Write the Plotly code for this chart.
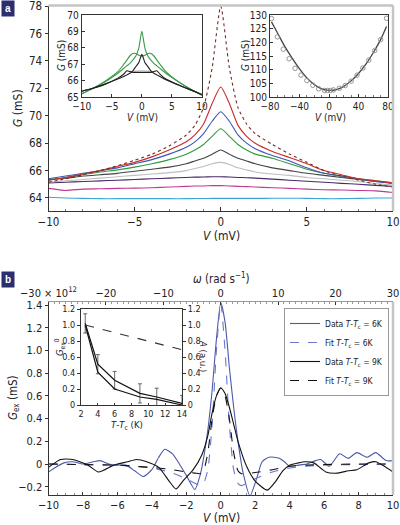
import plotly.graph_objects as go

FONT = "Liberation Sans Narrow, DejaVu Sans Condensed, Roboto, Liberation Sans, Arial, sans-serif"

# ---------------- Panel a: main curves ----------------
V_a = [-10, -9, -8, -7, -6, -5, -4, -3, -2, -1.5, -1, -0.5, 0, 0.5, 1, 1.5, 2, 3, 4, 5, 6, 7, 8, 9, 10]
G_dot = [65.15, 65.4, 65.7, 66.0, 66.35, 66.75, 67.2, 67.8, 68.6, 69.3, 70.6, 73.5, 78.0, 73.5, 70.6, 69.4, 68.7, 67.9, 67.2, 66.6, 66.0, 65.6, 65.3, 65.0, 64.8]
G_red = [65.3, 65.5, 65.75, 66.0, 66.3, 66.6, 67.0, 67.5, 68.1, 68.6, 69.4, 70.9, 72.1, 70.9, 69.3, 68.5, 68.0, 67.4, 66.95, 66.5, 66.0, 65.7, 65.4, 65.25, 65.1]
G_blue = [65.4, 65.6, 65.8, 66.0, 66.2, 66.5, 66.8, 67.2, 67.7, 68.1, 68.7, 69.6, 70.3, 69.6, 68.6, 68.0, 67.6, 67.1, 66.7, 66.2, 65.8, 65.6, 65.4, 65.2, 65.05]
G_green = [65.3, 65.5, 65.7, 65.9, 66.05, 66.25, 66.5, 66.8, 67.2, 67.5, 67.9, 68.5, 69.05, 68.5, 67.9, 67.5, 67.2, 66.9, 66.5, 66.1, 65.8, 65.6, 65.4, 65.25, 65.1]
G_dark = [65.35, 65.45, 65.6, 65.7, 65.8, 65.95, 66.1, 66.25, 66.5, 66.7, 66.9, 67.2, 67.5, 67.2, 66.9, 66.7, 66.5, 66.2, 66.0, 65.8, 65.65, 65.5, 65.35, 65.2, 65.1]
G_light = [65.15, 65.25, 65.35, 65.45, 65.55, 65.65, 65.75, 65.85, 66.0, 66.15, 66.3, 66.5, 66.6, 66.45, 66.2, 66.05, 65.9, 65.75, 65.65, 65.5, 65.4, 65.3, 65.2, 65.05, 64.95]
G_purple = [65.1, 65.15, 65.2, 65.25, 65.3, 65.35, 65.4, 65.45, 65.5, 65.52, 65.53, 65.55, 65.55, 65.53, 65.5, 65.48, 65.45, 65.38, 65.3, 65.22, 65.15, 65.07, 65.0, 64.92, 64.85]
G_magenta = [64.7, 64.55, 64.65, 64.67, 64.7, 64.72, 64.75, 64.8, 64.85, 64.87, 64.88, 64.9, 64.9, 64.88, 64.85, 64.83, 64.8, 64.75, 64.7, 64.65, 64.6, 64.58, 64.55, 64.52, 64.4]
G_cyan = [64.05, 64.0, 63.97, 63.95, 63.95, 63.95, 63.95, 63.95, 63.95, 63.96, 63.96, 63.97, 63.97, 63.97, 63.97, 63.97, 63.97, 63.98, 63.98, 63.97, 63.95, 63.95, 63.97, 64.0, 64.0]

# ---------------- Panel a: left inset ----------------
V_in = [-10, -8, -6, -4, -3, -2.5, -2, -1.5, -1, -0.5, 0, 0.5, 1, 1.5, 2, 2.5, 3, 4, 6, 8, 10]
G_in_green_peak = [65.2, 65.55, 65.95, 66.45, 66.75, 66.9, 67.05, 67.25, 67.5, 68.0, 69.0, 68.0, 67.5, 67.25, 67.05, 66.9, 66.75, 66.45, 65.95, 65.5, 65.1]
G_in_green_flat = [65.2, 65.55, 66.0, 66.55, 67.0, 67.25, 67.5, 67.65, 67.65, 67.55, 67.5, 67.55, 67.65, 67.65, 67.5, 67.25, 67.0, 66.55, 65.95, 65.5, 65.1]
G_in_black_peak = [65.35, 65.55, 65.8, 66.1, 66.25, 66.35, 66.45, 66.6, 66.85, 67.1, 67.6, 67.1, 66.85, 66.6, 66.45, 66.35, 66.25, 66.05, 65.75, 65.45, 65.15]
G_in_black_flat = [65.35, 65.55, 65.8, 66.15, 66.4, 66.6, 66.55, 66.5, 66.5, 66.5, 66.5, 66.5, 66.5, 66.5, 66.55, 66.6, 66.4, 66.1, 65.75, 65.45, 65.15]
V_in_gray = [-2, -1, 0, 1, 2]
G_in_gray = [66.55, 66.58, 66.6, 66.58, 66.55]

# ---------------- Panel a: right inset ----------------
V_circ = [-78, -70, -62, -54, -46, -38, -30, -22, -14, -6, -2, 2, 6, 14, 22, 30, 38, 46, 54, 62, 70, 78]
G_circ = [128.7, 122.0, 117.5, 114.0, 110.5, 108.0, 106.0, 104.3, 103.0, 102.4, 102.4, 102.4, 102.6, 103.2, 104.2, 105.8, 108.0, 110.6, 113.5, 117.0, 121.0, 128.8]
V_fit = [-78, -70, -60, -50, -40, -30, -20, -10, 0, 10, 20, 30, 40, 50, 60, 70, 78]
G_fit = [127.5, 123.5, 118.5, 114.2, 110.3, 107.0, 104.6, 103.0, 102.4, 102.7, 103.9, 105.9, 108.6, 112.0, 116.2, 121.0, 125.8]

# ---------------- Panel b: main ----------------
V_b6 = [-10, -9.6, -9.1, -8.6, -8, -7.4, -7, -6.5, -6, -5.5, -5, -4.5, -4, -3.6, -3.25, -2.8, -2.4, -2, -1.5, -1.2, -1, -0.75, -0.5, -0.25, 0, 0.25, 0.5, 0.75, 1, 1.3, 1.7, 2.1, 2.4, 2.8, 3.1, 3.4, 3.7, 4, 4.5, 5, 5.5, 5.8, 6.3, 6.9, 7.4, 7.9, 8.5, 9, 9.6, 10]
Gex_6 = [-0.07, -0.03, 0.01, 0.02, 0.0, 0.02, 0.03, 0.0, -0.01, -0.01, -0.06, -0.11, -0.05, 0.06, 0.13, 0.09, 0.0, -0.1, -0.225, -0.1, 0.05, 0.3, 0.65, 1.1, 1.42, 1.25, 0.85, 0.5, 0.2, -0.08, -0.28, -0.12, 0.02, 0.06, 0.06, 0.05, 0.02, -0.02, -0.01, 0.0, 0.03, 0.04, -0.02, 0.09, 0.05, 0.1, 0.06, 0.1, 0.03, 0.03]
V_b9 = [-10, -9.3, -8.6, -7.7, -7.1, -6.2, -5.4, -4.9, -4.3, -3.6, -3.0, -2.6, -2.2, -1.6, -1.1, -0.75, -0.5, -0.25, 0, 0.25, 0.5, 0.75, 1, 1.5, 2, 2.7, 3.2, 3.6, 4, 4.5, 4.9, 5.4, 6.1, 6.8, 7.4, 7.9, 8.6, 9.0, 9.5, 10]
Gex_9 = [-0.03, 0.04, 0.04, -0.01, -0.07, -0.01, 0.02, 0.04, 0.02, -0.03, -0.15, -0.22, -0.15, -0.05, 0.08, 0.25, 0.45, 0.6, 0.67, 0.62, 0.5, 0.35, 0.2, -0.02, -0.15, -0.23, -0.15, -0.06, -0.01, 0.01, 0.02, 0.01, -0.07, -0.08, -0.06, -0.05, 0.01, 0.02, -0.02, -0.07]
V_fitb = [-10, -8, -6, -5, -4, -3, -2, -1.5, -1.2, -1, -0.75, -0.5, -0.25, 0, 0.25, 0.5, 0.75, 1, 1.2, 1.5, 2, 3, 4, 5, 6, 8, 10]
Fit_6 = [0.0, -0.005, -0.01, -0.02, -0.035, -0.07, -0.13, -0.17, -0.19, -0.17, -0.05, 0.35, 1.0, 1.42, 1.0, 0.35, -0.05, -0.17, -0.19, -0.17, -0.13, -0.07, -0.035, -0.02, -0.01, -0.005, 0.0]
Fit_9 = [0.0, -0.005, -0.01, -0.02, -0.03, -0.045, -0.07, -0.08, -0.085, -0.06, 0.1, 0.4, 0.6, 0.67, 0.6, 0.4, 0.1, -0.06, -0.085, -0.085, -0.075, -0.05, -0.02, -0.01, -0.005, 0.0, 0.0]

omega_ticks = [-30e12, -20e12, -10e12, 0, 10e12, 20e12, 30e12]
omega_labels = ["\u221230 \u00d7 10<sup>12</sup>", "\u221220", "\u221210", "0", "10", "20", "30"]

# ---------------- Panel b: inset ----------------
dT = [2.5, 4, 6, 9, 11, 14]
G0_upper = [1.02, 0.51, 0.31, 0.145, 0.1, 0.02]
G0_err = [0.12, 0.12, 0.11, 0.12, 0.11, 0.1]
G0_lower = [1.0, 0.41, 0.2, 0.1, 0.07, 0.0]
dT_A = [2.5, 14]
A_vals = [1.0, 0.69]

W, H = 400, 525
def px(x):
    return x / W
def py(y):
    return 1 - y / H

fig = go.Figure()

def line(x, y, color, xa, ya, dash="solid", width=1.1, name=None, legend=False):
    fig.add_trace(go.Scatter(x=x, y=y, mode="lines", xaxis=xa, yaxis=ya,
                             line=dict(color=color, width=width, dash=dash, shape="spline", smoothing=0.6),
                             name=name, showlegend=legend, hoverinfo="skip"))

# panel a main (bottom to top)
line(V_a, G_cyan, "#3aa6d8", "x", "y")
line(V_a, G_magenta, "#c2378f", "x", "y")
line(V_a, G_purple, "#4a2a6a", "x", "y")
line(V_a, G_light, "#bdbdbd", "x", "y")
line(V_a, G_dark, "#444444", "x", "y")
line(V_a, G_green, "#2f9a3c", "x", "y")
line(V_a, G_blue, "#3a55b4", "x", "y")
line(V_a, G_red, "#cc2a2a", "x", "y")
line(V_a, G_dot, "#6e2e22", "x", "y", dash="dot", width=1.1)

# left inset
line(V_in, G_in_green_flat, "#3c9a48", "x2", "y2")
line(V_in, G_in_green_peak, "#3c9a48", "x2", "y2")
line(V_in_gray, G_in_gray, "#bbbbbb", "x2", "y2")
line(V_in, G_in_black_flat, "#222222", "x2", "y2")
line(V_in, G_in_black_peak, "#222222", "x2", "y2")

# right inset
line(V_fit, G_fit, "#444444", "x3", "y3", width=1.3)
fig.add_trace(go.Scatter(x=V_circ, y=G_circ, mode="markers", xaxis="x3", yaxis="y3",
                         marker=dict(symbol="circle-open", size=4.5, color="#8a8a8a", line=dict(width=0.9)),
                         showlegend=False, hoverinfo="skip"))

# panel b main
line(V_b6, Gex_6, "#4a5aa8", "x4", "y4", name="Data <i>T</i>-<i>T</i><sub>c</sub> = 6K", legend=True)
line(V_fitb, Fit_6, "#6878c8", "x4", "y4", dash="dash", name="Fit <i>T</i>-<i>T</i><sub>c</sub> = 6K", legend=True)
line(V_b9, Gex_9, "#111111", "x4", "y4", name="Data <i>T</i>-<i>T</i><sub>c</sub> = 9K", legend=True)
line(V_fitb, Fit_9, "#111111", "x4", "y4", dash="dash", name="Fit <i>T</i>-<i>T</i><sub>c</sub> = 9K", legend=True)

# top omega axis carrier (no visible marks)
fig.add_trace(go.Scatter(x=omega_ticks, y=[None] * len(omega_ticks), xaxis="x5", yaxis="y4",
                         mode="lines", showlegend=False, hoverinfo="skip"))

# panel b inset
fig.add_trace(go.Scatter(x=dT, y=G0_upper, mode="lines", xaxis="x6", yaxis="y6",
                         line=dict(color="#111", width=1.2),
                         error_y=dict(type="data", array=G0_err, color="#555", thickness=0.9, width=2),
                         showlegend=False, hoverinfo="skip"))
fig.add_trace(go.Scatter(x=dT, y=G0_lower, mode="lines", xaxis="x6", yaxis="y6",
                         line=dict(color="#111", width=1.2), showlegend=False, hoverinfo="skip"))
fig.add_trace(go.Scatter(x=dT_A, y=A_vals, mode="lines", xaxis="x6", yaxis="y7",
                         line=dict(color="#333", width=1.1, dash="dash"), showlegend=False, hoverinfo="skip"))

def ax(size=11, **kw):
    base = dict(showgrid=False, zeroline=False, showline=True, linecolor="#333", linewidth=1,
                ticks="outside", ticklen=3, tickcolor="#333", tickwidth=1, automargin=False,
                ticklabeloverflow="allow",
                tickfont=dict(size=size, color="#222", family=FONT), fixedrange=True)
    base.update(kw)
    return base

fig.update_layout(
    template="none",
    width=W, height=H, margin=dict(l=0, r=0, t=0, b=0, pad=0, autoexpand=False),
    paper_bgcolor="white", plot_bgcolor="white",
    font=dict(family=FONT, color="#222"),
    xaxis=ax(11.5, domain=[px(48.5), px(393)], range=[-10, 10], anchor="y",
             tickvals=[-10, -5, 0, 5, 10], ticks="inside", ticklen=4,
             minor=dict(dtick=1, ticks="inside", ticklen=2.5, tickcolor="#777")),
    yaxis=ax(11.5, domain=[py(211), py(5.5)], range=[63.05, 78.05], anchor="x",
             tickvals=[64, 66, 68, 70, 72, 74, 76, 78]),
    xaxis2=ax(10, domain=[px(81.7), px(202)], range=[-10, 10], anchor="y2",
              tickvals=[-10, -5, 0, 5, 10], mirror=True, ticks="inside", ticklen=3),
    yaxis2=ax(10, domain=[py(97), py(15)], range=[65, 70], anchor="x2",
              tickvals=[65, 66, 67, 68, 69, 70], mirror=True, ticks="inside", ticklen=3),
    xaxis3=ax(10, domain=[px(270), px(388)], range=[-80, 80], anchor="y3",
              tickvals=[-80, -40, 0, 40, 80], mirror=True, ticks="inside", ticklen=3,
              minor=dict(dtick=10, ticks="inside", ticklen=2, tickcolor="#777")),
    yaxis3=ax(10, domain=[py(97), py(15)], range=[100, 130], anchor="x3",
              tickvals=[100, 105, 110, 115, 120, 125, 130], mirror=True, ticks="inside", ticklen=3),
    xaxis4=ax(11, domain=[px(48.5), px(393)], range=[-10, 10], anchor="y4",
              tickvals=[-10, -8, -6, -4, -2, 0, 2, 4, 6, 8, 10], ticks="inside", ticklen=3,
              minor=dict(dtick=0.5, ticks="inside", ticklen=2, tickcolor="#888")),
    yaxis4=ax(11, domain=[py(495), py(302)], range=[-0.273, 1.427], anchor="x4",
              tickvals=[-0.2, 0, 0.2, 0.4, 0.6, 0.8, 1.0, 1.2, 1.4],
              ticktext=["\u22120.2", "0", "0.2", "0.4", "0.6", "0.8", "1.0", "1.2", "1.4"]),
    xaxis5=ax(11, overlaying="x4", side="top", anchor="y4", range=[-30e12, 30e12],
              tickvals=omega_ticks, ticktext=omega_labels, ticks="inside", ticklen=3,
              linecolor="#999",
              minor=dict(dtick=1e12, ticks="inside", ticklen=2, tickcolor="#999")),
    xaxis6=ax(9, domain=[px(81), px(182)], range=[2, 14], anchor="y6",
              tickvals=[2, 4, 6, 8, 10, 12, 14], mirror=True, ticks="inside", ticklen=2.5),
    yaxis6=ax(9, domain=[py(405), py(309)], range=[0, 1.2], anchor="x6",
              tickvals=[0, 0.2, 0.4, 0.6, 0.8, 1.0, 1.2], ticktext=["0", "0.2", "0.4", "0.6", "0.8", "1.0", "1.2"]),
    yaxis7=ax(9, overlaying="y6", side="right", anchor="x6", range=[0, 1.2],
              tickvals=[0, 0.2, 0.4, 0.6, 0.8, 1.0, 1.2], ticktext=["0", "0.2", "0.4", "0.6", "0.8", "1.0", "1.2"]),
    legend=dict(x=px(284), y=py(308), xanchor="left", yanchor="top",
                bgcolor="white", bordercolor="#999", borderwidth=1,
                font=dict(size=8.5, family=FONT, color="#222"),
                itemwidth=30, tracegroupgap=0),
    showlegend=True,
)

# gray top/right frame lines
GRAY = "#c4c4c4"
for (x0, y0, x1, y1) in [(48.5, 5.5, 393, 5.5), (393, 5.5, 393, 211), (393, 302, 393, 495)]:
    fig.add_shape(type="line", xref="paper", yref="paper", x0=px(x0), y0=py(y0), x1=px(x1), y1=py(y1),
                  line=dict(color=GRAY, width=2.5), layer="above")

def note(text, x, y, size=11.5, angle=0):
    fig.add_annotation(text=text, x=px(x), y=py(y), xref="paper", yref="paper", showarrow=False,
                       textangle=angle, font=dict(size=size, family=FONT, color="#222"),
                       xanchor="center", yanchor="middle")

note("<i>G</i> (mS)", 18, 108, 12, -90)
note("<i>V</i> (mV)", 221, 236, 12)
note("<i>G</i> (mS)", 61, 56, 10, -90)
note("<i>V</i> (mV)", 142, 118, 10)
note("<i>G</i> (mS)", 245, 56, 10, -90)
note("<i>V</i> (mV)", 330, 118, 10)
note("<i>\u03c9</i> (rad s<sup>\u22121</sup>)", 221, 278, 11.5)
note("<i>G</i><sub>ex</sub> (mS)", 13, 398, 11.5, -90)
note("<i>V</i> (mV)", 221, 518, 12)
note("<i>T</i>-<i>T</i><sub>c</sub> (K)", 127, 425, 9.5)
note("<i>G</i><sub>ex</sub><sup>0</sup>", 60, 347, 9.5, -90)
note("<i>A</i> (a.u.)", 204, 356, 9.5, 90)

for lab, yy in [("a", 9), ("b", 279)]:
    fig.add_annotation(text="<b>" + lab + "</b>", x=px(8), y=py(yy), xref="paper", yref="paper",
                       showarrow=False, bgcolor="#2b2f70", font=dict(size=10, color="white", family="Liberation Sans"),
                       width=10, height=13, xanchor="center", yanchor="middle")

fig.write_html("out.html", config={"displayModeBar": False},
               post_script="document.body.style.margin='0px';document.body.style.overflow='hidden';")
